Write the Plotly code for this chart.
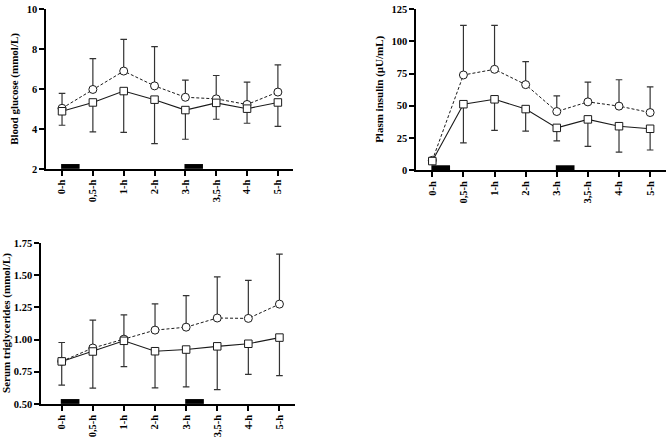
import plotly.graph_objects as go

categories = ["0-h", "0,5-h", "1-h", "2-h", "3-h", "3,5-h", "4-h", "5-h"]
meal_times = ["0-h", "3-h"]

glucose_circle = [5.03, 5.97, 6.89, 6.15, 5.58, 5.50, 5.22, 5.84]
glucose_square = [4.88, 5.32, 5.89, 5.46, 4.94, 5.30, 5.01, 5.32]
glucose_upper = [5.77, 7.51, 8.48, 8.11, 6.44, 6.67, 6.34, 7.20]
glucose_lower = [4.18, 3.85, 3.82, 3.26, 3.48, 4.48, 4.28, 4.12]

insulin_circle = [7.6, 73.9, 78.3, 66.4, 45.5, 53.0, 49.7, 44.7]
insulin_square = [7.0, 51.2, 55.0, 47.4, 32.8, 39.4, 34.1, 32.1]
insulin_upper = [7.6, 112.4, 112.4, 84.3, 57.6, 68.4, 70.2, 64.6]
insulin_lower = [7.0, 21.2, 30.8, 30.3, 22.7, 18.4, 13.9, 15.6]

tg_circle = [0.831, 0.934, 1.003, 1.073, 1.096, 1.167, 1.164, 1.275]
tg_square = [0.830, 0.907, 0.990, 0.909, 0.922, 0.947, 0.967, 1.015]
tg_upper = [0.977, 1.150, 1.192, 1.277, 1.341, 1.487, 1.460, 1.664]
tg_lower = [0.646, 0.623, 0.790, 0.625, 0.632, 0.611, 0.730, 0.720]

panels = [
    dict(title="Blood glucose (mmol/L)", circle=glucose_circle, square=glucose_square,
         upper=glucose_upper, lower=glucose_lower, yrange=[2, 10], tickvals=[2, 4, 6, 8, 10],
         fmt=None, xdom=[46/666, 293/666], xr=[-0.52, 7.49], ydom=[0.6225, 0.9910],
         tx=15/666, ty=(445-86)/445),
    dict(title="Plasm insulin (\u03bcU/mL)", circle=insulin_circle, square=insulin_square,
         upper=insulin_upper, lower=insulin_lower, yrange=[0, 125], tickvals=[0, 25, 50, 75, 100, 125],
         fmt=None, xdom=[416/666, 1.0], xr=[-0.524, 7.51], ydom=[0.6196, 0.9903],
         tx=380/666, ty=(445-87)/445),
    dict(title="Serum triglycerides (mmol/L)", circle=tg_circle, square=tg_square,
         upper=tg_upper, lower=tg_lower, yrange=[0.5, 1.75], tickvals=[0.5, 0.75, 1.0, 1.25, 1.5, 1.75],
         fmt=".2f", xdom=[41/666, 295/666], xr=[-0.666, 7.50], ydom=[0.0809, 0.4517],
         tx=7/666, ty=(445-326)/445),
]

FONT = "Liberation Serif"
INK = "#1a1a1a"
fig = go.Figure()
layout = dict(width=666, height=445, margin=dict(l=0, r=0, t=0, b=0),
              paper_bgcolor="white", plot_bgcolor="white", showlegend=False,
              annotations=[], shapes=[])

for i, p in enumerate(panels):
    n = "" if i == 0 else str(i + 1)
    xa, ya = "x" + n, "y" + n
    up_err = [u - c for u, c in zip(p["upper"], p["circle"])]
    lo_err = [s - l for s, l in zip(p["square"], p["lower"])]
    fig.add_trace(go.Scatter(
        x=categories, y=p["circle"], xaxis=xa, yaxis=ya, mode="lines+markers",
        line=dict(color=INK, width=1, dash="3px,2px"),
        marker=dict(symbol="circle", size=8, color="white", line=dict(color=INK, width=1)),
        error_y=dict(type="data", symmetric=False, array=up_err, arrayminus=[0]*len(up_err),
                     color="#333333", thickness=1.2, width=3.3),
    ))
    fig.add_trace(go.Scatter(
        x=categories, y=p["square"], xaxis=xa, yaxis=ya, mode="lines+markers",
        line=dict(color=INK, width=1.1),
        marker=dict(symbol="square", size=7.5, color="white", line=dict(color=INK, width=1)),
        error_y=dict(type="data", symmetric=False, array=[0]*len(lo_err), arrayminus=lo_err,
                     color="#333333", thickness=1.2, width=3.3),
    ))
    axis_common = dict(showline=True, linecolor="black", linewidth=1.5, ticks="outside",
                       ticklen=5, tickwidth=1.5, tickcolor="black", showgrid=False, zeroline=False,
                       tickfont=dict(family=FONT, size=10.5, color="black", weight="bold"))
    layout["xaxis" + n] = dict(axis_common, domain=p["xdom"], range=p["xr"], anchor=ya,
                               type="category", tickangle=-90, categoryorder="array",
                               categoryarray=categories)
    yax = dict(axis_common, domain=p["ydom"], range=p["yrange"], anchor=xa, tickvals=p["tickvals"])
    if p["fmt"]:
        yax["tickformat"] = p["fmt"]
    layout["yaxis" + n] = yax
    for m in meal_times:
        k = categories.index(m)
        layout["shapes"].append(dict(type="rect", xref=xa, yref=ya + " domain",
                                     x0=k - 0.03, x1=k + 0.57, y0=0, y1=0.03,
                                     fillcolor="black", line=dict(width=0)))
    layout["annotations"].append(dict(text=p["title"], xref="paper", yref="paper",
                                      x=p["tx"], y=p["ty"], textangle=-90, showarrow=False,
                                      xanchor="center", yanchor="middle",
                                      font=dict(family=FONT, size=11, color="black", weight="bold")))

fig.update_layout(**layout)
fig.write_html("out.html", config={"displayModeBar": False},
               post_script="document.body.style.margin='0px';document.body.style.overflow='hidden';")
